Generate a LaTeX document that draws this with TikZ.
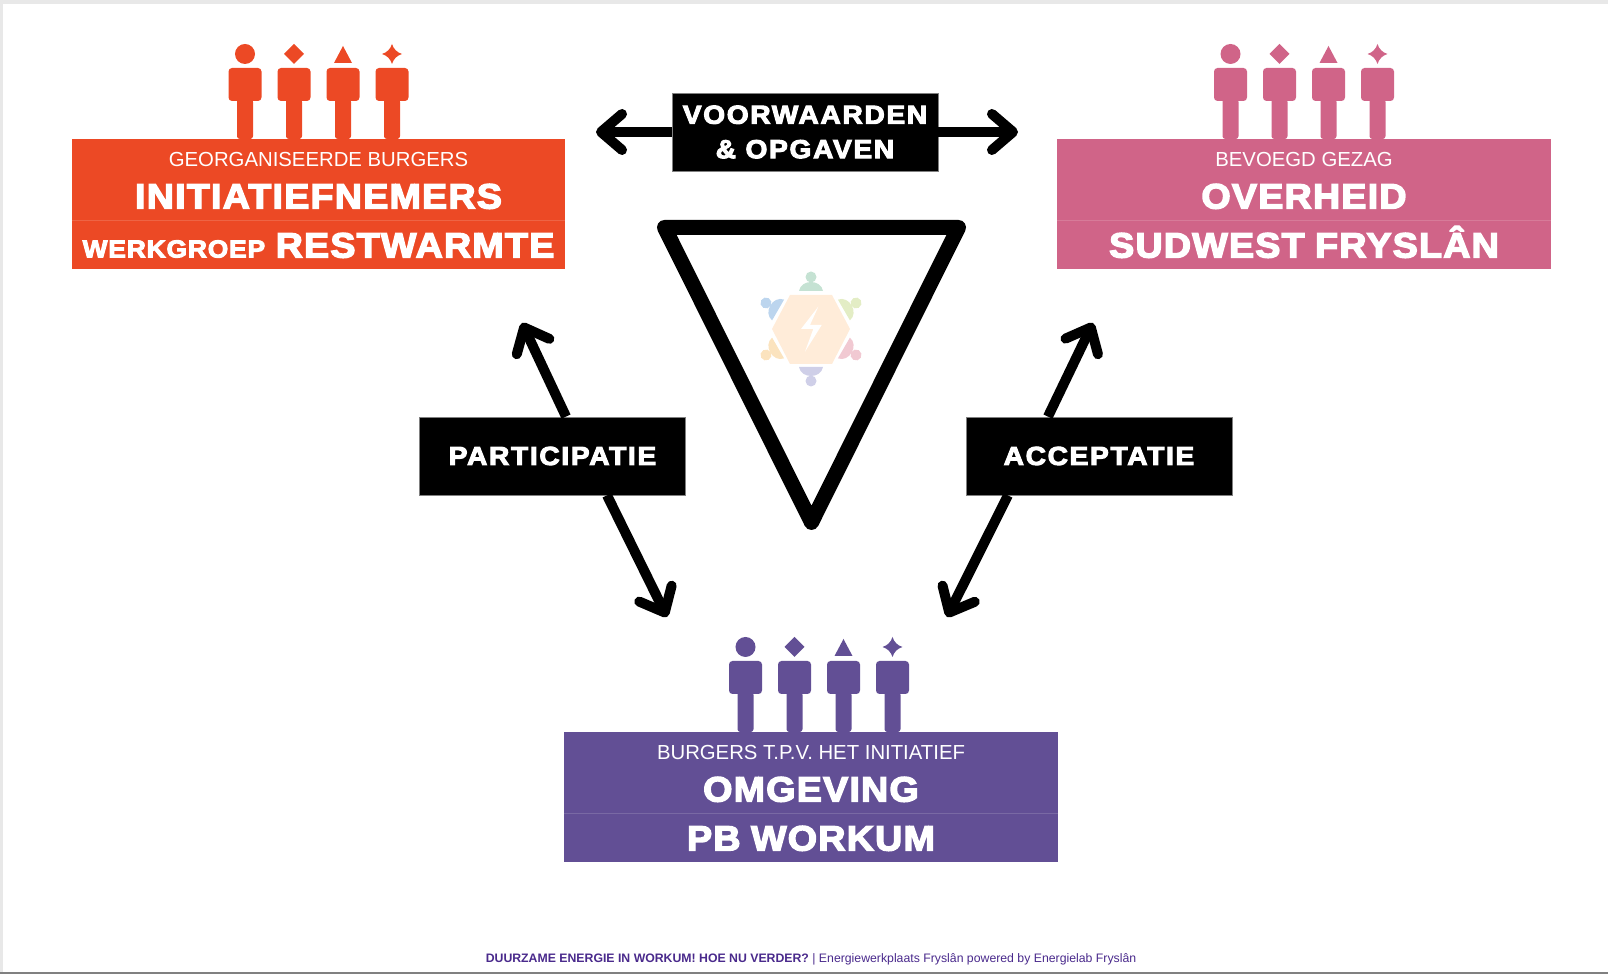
\documentclass[tikz,border=0pt]{standalone}
\usepackage{fontspec}
\setmainfont{Liberation Sans}
\newfontfamily\zwaarfont[BoldFeatures={FakeBold=4,FakeStretch=1.07,LetterSpace=3.5,WordSpace=.9}]{Liberation Sans}
\newfontfamily\zwartfont[BoldFeatures={FakeBold=4,FakeStretch=1.08,LetterSpace=6.5}]{Liberation Sans}
\usetikzlibrary{arrows.meta}
\definecolor{rood}{HTML}{EC4925}
\definecolor{roze}{HTML}{D06488}
\definecolor{paars}{HTML}{624F95}
\definecolor{voetpaars}{HTML}{4A2A8C}
\tikzset{
  vak/.style={fill=#1, minimum width=4.93cm, inner sep=0pt},
  zwartvak/.style={fill=black, draw=gray, line width=.2pt, inner sep=0pt, minimum width=2.66cm, minimum height=.78cm, text=white, align=center, font=\zwartfont\bfseries\fontsize{7.4}{9.8}\selectfont},
  enkelpijl/.style={line width=.1cm, -{Straight Barb[round,length=2.1mm,width=3.6mm]}},
  klein/.style={text=white, font=\fontsize{5.78}{6}\selectfont},
  groot/.style={text=white, text height=.25cm, text depth=0pt, font=\zwaarfont\bfseries\fontsize{10}{10}\selectfont},
  pics/poppetjes/.style={code={
    \foreach \px in {-73.5,-24.5,24.5,73.5} {
      \fill[#1, rounded corners=1pt] (\px-16.5,-71) rectangle (\px+16.5,-38);
      \fill[#1, rounded corners=.8pt] (\px-8,-40) rectangle (\px+8,0);
    }
    \fill[#1] (-73.5,-85) circle (.1cm);
    \fill[#1] (-24.5,-95) -- (-14.5,-85) -- (-24.5,-75) -- (-34.5,-85) -- cycle;
    \fill[#1] (24.5,-93) -- (33.5,-76) -- (15.5,-76) -- cycle;
    \fill[#1] (73.5,-95) .. controls (75,-90) and (78.5,-86.5) .. (83.5,-85) .. controls (78.5,-83.5) and (75,-80) .. (73.5,-75) .. controls (72,-80) and (68.5,-83.5) .. (63.5,-85) .. controls (68.5,-86.5) and (72,-90) .. (73.5,-95) -- cycle;
  }}
}
\begin{document}
\begin{tikzpicture}[x=.01cm,y=-.01cm]
    \useasboundingbox (0,0) rectangle (1608,974);

    % De rand van de pagina
    \fill[black!9] (0,0) rectangle (1608,4);
    \fill[black!9] (0,0) rectangle (3,974);
    \fill[black!50] (0,972) rectangle (1608,974);

    % De drie groepen
    \foreach \naam/\kleur/\mx/\my/\popx/\regel/\titel/\onder in {
      initiatief/rood/318.5/139/318.5/GEORGANISEERDE BURGERS/INITIATIEFNEMERS/{{\fontsize{7}{10}\selectfont WERKGROEP} RESTWARMTE},
      overheid/roze/1304/139/1304/BEVOEGD GEZAG/OVERHEID/SUDWEST FRYSLÂN,
      omgeving/paars/811/732/819/BURGERS T.P.V. HET INITIATIEF/OMGEVING/PB WORKUM} {
      \pic at (\popx,\my) {poppetjes=\kleur};
      \node[vak=\kleur, minimum height=.82cm] (\naam boven) at (\mx,\my+41) {};
      \node[vak=\kleur, minimum height=.48cm, groot] (\naam onder) at (\mx,\my+106) {\onder};
      \draw[white, opacity=.15, line width=.3pt] (\naam onder.north west) -- (\naam onder.north east);
      \node[klein] (\naam regel) at (\mx,\my+21) {\regel};
      \node[groot] (\naam titel) at (\mx,\my+57) {\titel};
    }

    % De driehoek met het logo
    \draw[line width=.15cm, line join=round] (664.5,227.5) -- (958.5,227.5) -- (811.5,522.5) -- cycle;
    \fill[orange!15!white] (772,329) -- (790,295) -- (832,295) -- (850,329) -- (832,364) -- (790,364) -- cycle;
    \fill[white] (818.3,306.7) -- (801,329) -- (813.3,329) -- (805,351.7) -- (821.7,325) -- (810,325) -- cycle;
    \foreach \hoek/\tint in {0/C5E2D3,60/E3EDC5,120/F1C9D2,180/CFCFE8,240/FBE3BE,300/BCD5EE} {
      \definecolor{tint}{HTML}{\tint}
      \begin{scope}[shift={(811,329)}, rotate=-\hoek]
        \fill[tint] (0,-52) circle (.055cm);
        \fill[tint] (-12,-38) .. controls (-10,-50) and (10,-50) .. (12,-38) -- cycle;
      \end{scope}
    }

    % De zwarte vakken
    \node[zwartvak] (voorwaarden) at (805,132) {VOORWAARDEN\\\& OPGAVEN};
    \node[zwartvak] (participatie) at (552.5,456) {PARTICIPATIE};
    \node[zwartvak] (acceptatie) at (1099,456) {ACCEPTATIE};

    % De pijlen
    \coordinate (links) at (596,132);
    \coordinate (rechts) at (1018,132);
    \coordinate (partboven) at (522,323);
    \coordinate (partonder) at (667,617);
    \coordinate (accboven) at (1093,323);
    \coordinate (acconder) at (947,617);
    \draw[enkelpijl] (voorwaarden.west) -- (links);
    \draw[enkelpijl] (voorwaarden.east) -- (rechts);
    \draw[enkelpijl] ([xshift=.135cm]participatie.north) -- (partboven);
    \draw[enkelpijl] ([xshift=.545cm]participatie.south) -- (partonder);
    \draw[enkelpijl] ([xshift=-.51cm]acceptatie.north) -- (accboven);
    \draw[enkelpijl] ([xshift=-.91cm]acceptatie.south) -- (acconder);

    % De voetregel
    \node[text=voetpaars, font=\fontsize{3.49}{4}\selectfont] (voet) at (811,959) {{\bfseries DUURZAME ENERGIE IN WORKUM! HOE NU VERDER?} | Energiewerkplaats Fryslân powered by Energielab Fryslân};
\end{tikzpicture}
\end{document}
